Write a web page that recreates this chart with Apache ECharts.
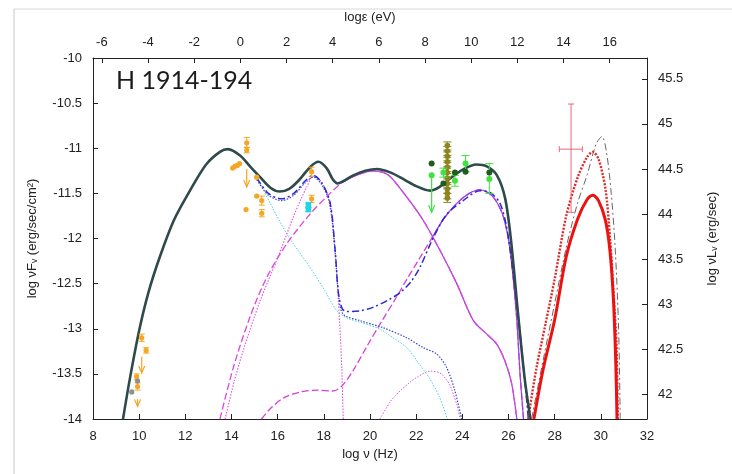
<!DOCTYPE html>
<html>
<head>
<meta charset="utf-8">
<script src="https://cdn.jsdelivr.net/npm/echarts@6/dist/echarts.min.js"></script>
<style>
  html, body { margin: 0; padding: 0; background: #fff; }
  #chart { width: 732px; height: 474px; }
</style>
</head>
<body>
<div id="chart"></div>
<script>
// shift between log nu (Hz) and log eps (eV), and between the two y scales
const nuToEv = 14.383
const fluxToLum = 55.73

const epsTicks = [-6, -4, -2, 0, 2, 4, 6, 8, 10, 12, 14, 16]
const lumTicks = [42, 42.5, 43, 43.5, 44, 44.5, 45, 45.5]

// model curves [log nu, log nuFnu]
const totalSed = [[9.3,-14],[9.6,-13.55],[10.0,-13.02],[10.4,-12.6],[10.9,-12.2],[11.5,-11.8],[12.2,-11.47],[12.9,-11.18],[13.5,-11.04],[13.85,-11.01],[14.37,-11.08],[14.8,-11.2],[15.24,-11.32],[15.7,-11.44],[16.1,-11.48],[16.5,-11.45],[16.9,-11.36],[17.4,-11.21],[17.76,-11.15],[18.12,-11.22],[18.4,-11.35],[18.6,-11.39],[18.8,-11.37],[19.28,-11.3],[19.8,-11.25],[20.3,-11.23],[20.9,-11.27],[21.5,-11.35],[22.0,-11.42],[22.6,-11.47],[23.0,-11.43],[23.5,-11.33],[24.0,-11.24],[24.6,-11.18],[25.06,-11.2],[25.5,-11.3],[25.85,-11.55],[26.1,-12.0],[26.4,-12.8],[26.7,-13.55],[26.95,-14]]
const syncCyan = [[15.1,-11.32],[15.7,-11.62],[16.4,-11.95],[17.4,-12.32],[18.0,-12.56],[18.56,-12.8],[19.0,-12.88],[19.6,-12.93],[20.4,-13.0],[21.0,-13.1],[21.6,-13.21],[22.1,-13.38],[22.6,-13.56],[23.0,-13.75],[23.35,-14]]
const syncSecond = [[13.72,-14],[14.1,-13.6],[14.51,-13.24],[15.24,-12.69],[15.96,-12.24],[16.68,-11.76],[17.0,-11.57],[17.26,-11.43],[17.54,-11.31],[17.85,-11.36],[18.12,-11.48],[18.3,-11.7],[18.41,-11.95],[18.55,-12.35],[18.63,-12.69],[18.72,-13.1],[18.78,-13.45],[18.84,-14]]
const sscHump = [[13.5,-14],[14.08,-13.43],[14.8,-12.87],[15.53,-12.43],[16.39,-12.06],[17.4,-11.73],[18.27,-11.5],[18.8,-11.38],[19.4,-11.3],[20.15,-11.25],[20.6,-11.27],[20.9,-11.32],[21.59,-11.54],[22.31,-11.8],[23.03,-12.13],[23.76,-12.5],[24.48,-12.91],[25.06,-13.06],[25.49,-13.17],[25.85,-13.36],[26.14,-13.61],[26.36,-14]]
const ecHump = [[15.3,-14],[15.7,-13.88],[16.3,-13.76],[17.0,-13.7],[17.7,-13.68],[18.4,-13.69],[18.8,-13.63],[19.3,-13.45],[19.9,-13.18],[20.5,-12.92],[21.1,-12.67],[21.6,-12.45],[22.1,-12.24],[22.67,-12.0],[23.2,-11.78],[23.76,-11.61],[24.3,-11.5],[24.77,-11.46],[25.1,-11.49],[25.4,-11.56],[25.78,-11.76],[26.07,-12.13],[26.35,-12.87],[26.5,-13.5],[26.65,-14]]
const blueSum = [[15.1,-11.33],[15.6,-11.5],[16.18,-11.56],[16.7,-11.5],[17.2,-11.36],[17.54,-11.3],[17.9,-11.38],[18.27,-11.6],[18.49,-12.13],[18.63,-12.6],[18.8,-12.78],[19.0,-12.81],[19.6,-12.8],[20.15,-12.76],[20.8,-12.68],[21.3,-12.6],[21.8,-12.47],[22.2,-12.3],[22.67,-12.03],[23.3,-11.74],[24.04,-11.58],[24.77,-11.47],[25.2,-11.49],[25.63,-11.61],[25.9,-11.85],[26.07,-12.13],[26.43,-12.87],[26.72,-13.61],[26.86,-14]]
const blueDotted = [[15.1,-11.35],[15.6,-11.52],[16.18,-11.58],[16.7,-11.52],[17.2,-11.38],[17.54,-11.32],[17.9,-11.4],[18.27,-11.62],[18.49,-12.15],[18.65,-12.65],[18.84,-12.84],[19.57,-12.91],[20.58,-12.99],[21.59,-13.1],[22.31,-13.21],[22.89,-13.28],[23.32,-13.43],[23.68,-13.69],[23.97,-14]]
const smallHump = [[20.43,-14],[20.9,-13.8],[21.3,-13.69],[21.7,-13.6],[22.02,-13.54],[22.6,-13.47],[23.03,-13.49],[23.3,-13.56],[23.47,-13.63],[23.76,-13.84],[23.9,-14]]
const cherenkovSolid = [[27.1,-14],[27.5,-13.45],[28.0,-12.9],[28.5,-12.2],[29.0,-11.78],[29.4,-11.57],[29.65,-11.52],[29.9,-11.58],[30.2,-11.8],[30.4,-12.15],[30.55,-12.7],[30.65,-13.4],[30.7,-14]]
const cherenkovDotted = [[26.85,-14],[27.2,-13.45],[27.6,-12.95],[28.0,-12.45],[28.5,-11.75],[29.0,-11.32],[29.4,-11.1],[29.65,-11.04],[29.9,-11.12],[30.2,-11.45],[30.4,-12.0],[30.55,-12.6],[30.68,-13.2],[30.73,-14]]
const cherenkovGray = [[27.0,-14],[27.5,-13.35],[28.0,-12.72],[28.5,-12.1],[29.0,-11.6],[29.4,-11.3],[29.8,-10.95],[30.05,-10.87],[30.25,-11.05],[30.45,-11.5],[30.62,-12.1],[30.77,-13.0],[30.84,-14]]

// observed points [log nu, log nuFnu, low, high]
const orangePts = [[9.89,-13.53,-13.56,-13.5],[9.93,-13.64,-13.68,-13.6],[10.11,-13.1,-13.14,-13.06],[10.3,-13.24,-13.27,-13.21],[14.05,-11.22,-11.22,-11.22],[14.15,-11.2,-11.2,-11.2],[14.25,-11.19,-11.19,-11.19],[14.35,-11.17,-11.17,-11.17],[14.66,-10.94,-10.99,-10.88],[14.66,-11.02,-11.05,-10.99],[15.09,-11.32,-11.32,-11.32],[15.09,-11.53,-11.53,-11.53],[15.31,-11.58,-11.63,-11.53],[15.31,-11.72,-11.76,-11.68],[14.63,-11.68,-11.68,-11.68],[17.47,-11.26,-11.31,-11.21],[17.47,-11.56,-11.6,-11.52]]
const orangeLimits = [[10.11,-13.31,-13.49],[9.93,-13.78,-13.86],[14.66,-11.23,-11.43]]
const grayPts = [[9.68,-13.7,-13.7,-13.7],[9.93,-13.58,-13.58,-13.58]]
const cyanPts = [[17.33,-11.63,-11.6,-11.66],[17.33,-11.68,-11.66,-11.7]]
const limePts = [[22.67,-11.3,-11.3,-11.3],[23.18,-11.27,-11.22,-11.32],[23.68,-11.36,-11.3,-11.42],[24.14,-11.17,-11.26,-11.08],[25.17,-11.34,-11.5,-11.17]]
const limeLimits = [[22.67,-11.3,-11.71]]
const darkGreenPts = [[22.67,-11.17,-11.17,-11.17],[23.18,-11.39,-11.39,-11.39],[23.68,-11.27,-11.27,-11.27],[24.14,-11.26,-11.26,-11.26],[25.17,-11.27,-11.27,-11.27]]
const olivePts = [[23.35,-10.97,-11.02,-10.93],[23.35,-11.03,-11.08,-10.98],[23.35,-11.09,-11.14,-11.04],[23.35,-11.15,-11.2,-11.1],[23.35,-11.21,-11.26,-11.16],[23.35,-11.27,-11.32,-11.22],[23.35,-11.33,-11.38,-11.28],[23.35,-11.39,-11.44,-11.34],[23.35,-11.45,-11.5,-11.4],[23.35,-11.5,-11.56,-11.45],[23.35,-11.55,-11.6,-11.5]]
// [log nu, log nuFnu, low, high, nu low, nu high]
const redPoint = [[28.71,-11.01,-11.71,-10.51,28.2,29.2]]

const chart = echarts.init(document.getElementById('chart'))

function curve(data, color, width, type, z) {
  return {
    type: 'line', data, showSymbol: false, smooth: 0.3, silent: true,
    lineStyle: { color, width, type }, z: z || 2
  }
}

function points(data, color, r, cap, shape) {
  return {
    type: 'custom', data, z: 5, silent: true,
    renderItem: (params, api) => {
      const c = api.coord([api.value(0), api.value(1)])
      const lo = api.coord([api.value(0), api.value(2)])
      const hi = api.coord([api.value(0), api.value(3)])
      const kids = []
      const st = { stroke: color, lineWidth: 1, fill: 'none' }
      if (Math.abs(lo[1] - hi[1]) > 1) {
        kids.push({ type: 'line', shape: { x1: c[0], y1: lo[1], x2: c[0], y2: hi[1] }, style: st })
        kids.push({ type: 'line', shape: { x1: c[0] - cap, y1: lo[1], x2: c[0] + cap, y2: lo[1] }, style: st })
        kids.push({ type: 'line', shape: { x1: c[0] - cap, y1: hi[1], x2: c[0] + cap, y2: hi[1] }, style: st })
      }
      if (shape === 'rect') {
        kids.push({ type: 'rect', shape: { x: c[0] - r, y: c[1] - r, width: 2 * r, height: 2 * r }, style: { fill: color } })
      } else {
        kids.push({ type: 'circle', shape: { cx: c[0], cy: c[1], r }, style: { fill: color } })
      }
      return { type: 'group', children: kids }
    }
  }
}

function limits(data, color) {
  return {
    type: 'custom', data, z: 5, silent: true,
    renderItem: (params, api) => {
      const a = api.coord([api.value(0), api.value(1)])
      const b = api.coord([api.value(0), api.value(2)])
      const st = { stroke: color, lineWidth: 1.2, fill: 'none' }
      return {
        type: 'group', children: [
          { type: 'line', shape: { x1: a[0], y1: a[1], x2: b[0], y2: b[1] }, style: st },
          { type: 'polyline', shape: { points: [[b[0] - 3, b[1] - 7], [b[0], b[1]], [b[0] + 3, b[1] - 7]] }, style: st }
        ]
      }
    }
  }
}

const crossPoint = {
  type: 'custom', data: redPoint, z: 5, silent: true,
  renderItem: (params, api) => {
    const c = api.coord([api.value(0), api.value(1)])
    const lo = api.coord([api.value(0), api.value(2)])
    const hi = api.coord([api.value(0), api.value(3)])
    const l = api.coord([api.value(4), api.value(1)])
    const r = api.coord([api.value(5), api.value(1)])
    const st = { stroke: '#e36a78', lineWidth: 1 }
    return {
      type: 'group', children: [
        { type: 'line', shape: { x1: c[0], y1: lo[1], x2: c[0], y2: hi[1] }, style: st },
        { type: 'line', shape: { x1: c[0] - 3, y1: lo[1], x2: c[0] + 3, y2: lo[1] }, style: st },
        { type: 'line', shape: { x1: c[0] - 3, y1: hi[1], x2: c[0] + 3, y2: hi[1] }, style: st },
        { type: 'line', shape: { x1: l[0], y1: c[1], x2: r[0], y2: c[1] }, style: st },
        { type: 'line', shape: { x1: l[0], y1: c[1] - 3, x2: l[0], y2: c[1] + 3 }, style: st },
        { type: 'line', shape: { x1: r[0], y1: c[1] - 3, x2: r[0], y2: c[1] + 3 }, style: st }
      ]
    }
  }
}

const axisFont = { fontFamily: 'Liberation Sans', fontSize: 13, color: '#222' }
const axisLine = { onZero: false, lineStyle: { color: '#222', width: 1 } }

const option = {
  animation: false,
  backgroundColor: '#fff',
  grid: { left: 93, right: 85, top: 58, bottom: 55 },
  graphic: [
    {
      type: 'text', left: 116, top: 68, z: 10,
      style: { text: 'H 1914-194', fontFamily: 'Lato', fontSize: 25, fill: '#1b1b1b' }
    },
    { type: 'line', shape: { x1: 14, y1: 9, x2: 732, y2: 9 }, style: { stroke: '#d8d8d8', lineWidth: 1 } },
    { type: 'line', shape: { x1: 14, y1: 9, x2: 14, y2: 474 }, style: { stroke: '#c8c8c8', lineWidth: 1 } }
  ],
  xAxis: [
    {
      type: 'value', min: 8, max: 32, interval: 2, position: 'bottom',
      name: 'log ν (Hz)', nameLocation: 'middle', nameGap: 29, nameTextStyle: axisFont,
      axisLine, axisTick: { inside: true, length: 5, lineStyle: { color: '#222' } },
      axisLabel: { ...axisFont, margin: 11 }, splitLine: { show: false }
    },
    {
      type: 'value', min: 8 - nuToEv, max: 32 - nuToEv, position: 'top',
      name: 'logε (eV)', nameLocation: 'middle', nameGap: 34, nameTextStyle: axisFont,
      axisLine, axisTick: { inside: true, length: 5, customValues: epsTicks, lineStyle: { color: '#222' } },
      axisLabel: { ...axisFont, margin: 9, customValues: epsTicks }, splitLine: { show: false }
    }
  ],
  yAxis: [
    {
      type: 'value', min: -14, max: -10, interval: 0.5, position: 'left',
      name: 'log νFᵥ (erg/sec/cm²)', nameLocation: 'middle', nameGap: 54, nameRotate: 90, nameTextStyle: axisFont,
      axisLine, axisTick: { inside: true, length: 5, lineStyle: { color: '#222' } },
      axisLabel: { ...axisFont, margin: 11 }, splitLine: { show: false }
    },
    {
      type: 'value', min: -14 + fluxToLum, max: -10 + fluxToLum, position: 'right',
      name: 'log νLᵥ (erg/sec)', nameLocation: 'middle', nameGap: 59, nameRotate: 90, nameTextStyle: axisFont,
      axisLine, axisTick: { inside: true, length: 5, customValues: lumTicks, lineStyle: { color: '#222' } },
      axisLabel: { ...axisFont, margin: 11, customValues: lumTicks }, splitLine: { show: false }
    }
  ],
  series: [
    curve(syncCyan, '#45cfe0', 1, [1.5, 1.5]),
    curve(smallHump, '#e055e0', 1, [1.5, 1.5]),
    curve(syncSecond, '#e34fe6', 1.1, [1.5, 1.5]),
    curve(ecHump, '#d83fd8', 1.3, [7, 3]),
    curve(ecHump.filter(p => p[0] >= 22.6), '#9a3ee6', 1.2, 'solid'),
    curve(sscHump.filter(p => p[0] >= 18.8), '#9a3ee6', 1.2, 'solid'),
    curve(sscHump, '#dd45dd', 1.3, [7, 3]),
    curve(blueDotted, '#3a48c8', 1.2, [1.5, 1.5]),
    curve(blueSum, '#2a2ad0', 1.5, [7, 3, 2, 3]),
    curve(totalSed, '#2f4a4a', 2.6, 'solid', 4),
    curve(cherenkovGray, '#666', 1, [7, 3, 2, 3]),
    curve(cherenkovDotted, '#e02a2a', 2.4, [2, 1.5]),
    curve(cherenkovSolid, '#ee1111', 3, 'solid'),
    points(orangePts, '#f5a623', 2.6, 3),
    limits(orangeLimits, '#f5a623'),
    points(grayPts, '#8f8f8f', 2.6, 3),
    points(cyanPts, '#22d4e6', 2.8, 3, 'rect'),
    points(olivePts, '#8c8520', 2.8, 4),
    points(limePts, '#3fe23f', 3, 4),
    limits(limeLimits, '#3fe23f'),
    points(darkGreenPts, '#1f5c1f', 3, 4),
    crossPoint
  ]
}

chart.setOption(option)
</script>
</body>
</html>
